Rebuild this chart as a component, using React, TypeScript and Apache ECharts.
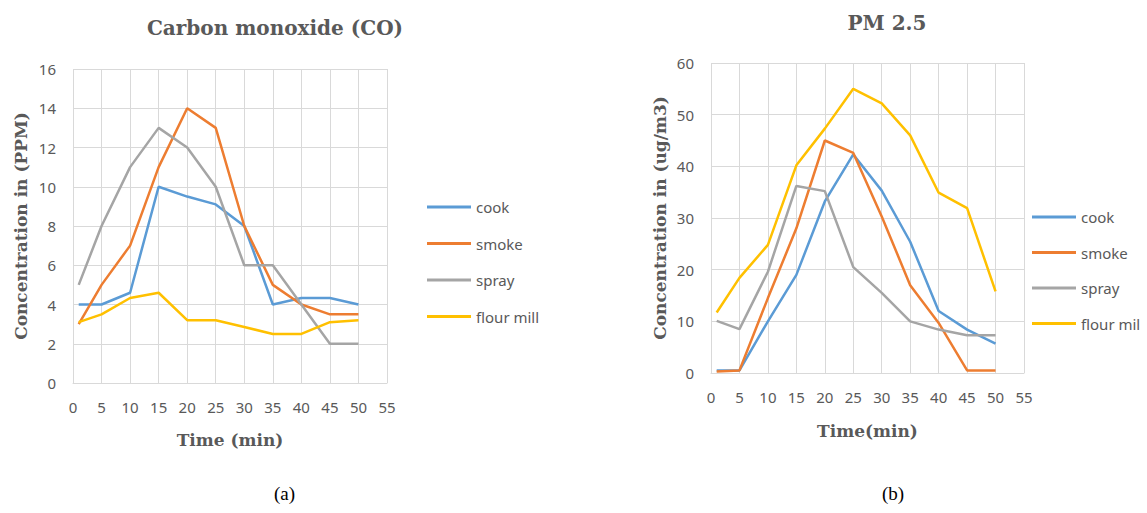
import React, { useEffect, useRef } from "react";
import * as echarts from "echarts";

const times = [1, 5, 10, 15, 20, 25, 30, 35, 40, 45, 50];
const seriesNames = ["cook", "smoke", "spray", "flour mill"];
const colors = ["#5B9BD5", "#ED7D31", "#A5A5A5", "#FFC000"];

const coCook = [4, 4, 4.6, 10, 9.5, 9.1, 8, 4, 4.33, 4.33, 4];
const coSmoke = [3, 5, 7, 11, 14, 13, 8, 5, 4, 3.5, 3.5];
const coSpray = [5, 8, 11, 13, 12, 10, 6, 6, 4, 2, 2];
const coFlour = [3.1, 3.5, 4.33, 4.6, 3.2, 3.2, 2.85, 2.5, 2.5, 3.1, 3.2];

const pmCook = [0.5, 0.5, 10, 19, 33.2, 42.3, 35.3, 25.4, 12, 8.4, 5.7];
const pmSmoke = [0.3, 0.5, 14.5, 28, 45, 42.6, 30.3, 17, 9.7, 0.5, 0.5];
const pmSpray = [10.1, 8.5, 19.6, 36.2, 35.2, 20.5, 15.5, 10, 8.4, 7.3, 7.3];
const pmFlour = [11.7, 18.4, 24.8, 40.2, 47.3, 55, 52.2, 46, 34.9, 31.9, 15.8];

const titles = ["Carbon monoxide (CO)", "PM 2.5"];
const xNames = ["Time (min)", "Time(min)"];
const yNames = ["Concentration in (PPM)", "Concentration in (ug/m3)"];
const captions = ["(a)", "(b)"];

const TXT = "#595959";
const GRID = "#D9D9D9";
const tickFont = "Noto Sans";
const serifBold = "DejaVu Serif";

function pairs(vals: number[]) {
  return times.map((t, i) => [t, vals[i]]);
}

export default function App() {
  const ref = useRef<HTMLDivElement>(null);
  useEffect(() => {
    if (!ref.current) return;
    const chart = echarts.init(ref.current, null, { renderer: "svg" });
    const xAxisBase = (idx: number, gap: number) => ({
      type: "value",
      gridIndex: idx,
      min: 0,
      max: 55,
      interval: 5,
      name: xNames[idx],
      nameLocation: "middle",
      nameGap: gap,
      nameTextStyle: { fontFamily: serifBold, fontWeight: "bold", fontSize: 17, color: TXT },
      axisLine: { show: true, lineStyle: { color: GRID, width: 1 } },
      axisTick: { show: false },
      axisLabel: { color: TXT, fontFamily: tickFont, fontSize: 15, margin: 16, showMaxLabel: true, showMinLabel: true },
      splitLine: { show: true, lineStyle: { color: GRID, width: 1 } },
    });
    const yAxisBase = (idx: number, max: number, interval: number, gap: number) => ({
      type: "value",
      gridIndex: idx,
      min: 0,
      max,
      interval,
      name: yNames[idx],
      nameLocation: "middle",
      nameGap: gap,
      nameTextStyle: { fontFamily: serifBold, fontWeight: "bold", fontSize: 17, color: TXT },
      axisLine: { show: false },
      axisTick: { show: false },
      axisLabel: { color: TXT, fontFamily: tickFont, fontSize: 15, margin: 17 },
      splitLine: { show: true, lineStyle: { color: GRID, width: 1 } },
    });
    const co = [coCook, coSmoke, coSpray, coFlour];
    const pm = [pmCook, pmSmoke, pmSpray, pmFlour];
    const series: any[] = [];
    co.forEach((vals, i) =>
      series.push({
        type: "line",
        name: seriesNames[i],
        xAxisIndex: 0,
        yAxisIndex: 0,
        data: pairs(vals),
        symbol: "none",
        lineStyle: { color: colors[i], width: 2.5 },
        itemStyle: { color: colors[i] },
      })
    );
    pm.forEach((vals, i) =>
      series.push({
        type: "line",
        name: seriesNames[i],
        xAxisIndex: 1,
        yAxisIndex: 1,
        data: pairs(vals),
        symbol: "none",
        lineStyle: { color: colors[i], width: 2.5 },
        itemStyle: { color: colors[i] },
      })
    );
    const legendBase = (left: number, top: number, gap: number, extra: any) => ({
      orient: "vertical",
      left,
      top,
      padding: 0,
      itemGap: gap,
      itemWidth: 44,
      itemHeight: 3,
      icon: "rect",
      selectedMode: false,
      data: seriesNames,
      textStyle: { color: TXT, fontFamily: tickFont, fontSize: 15, lineHeight: 16, ...extra },
    });
    chart.setOption({
      animation: false,
      backgroundColor: "#ffffff",
      title: [
        {
          text: titles[0],
          left: 270,
          top: 13,
          textAlign: "center",
          textStyle: { fontFamily: serifBold, fontWeight: "bold", fontSize: 20, color: TXT },
        },
        {
          text: titles[1],
          left: 882,
          top: 8,
          textAlign: "center",
          textStyle: { fontFamily: serifBold, fontWeight: "bold", fontSize: 20, color: TXT },
        },
      ],
      grid: [
        { left: 73, right: 760, top: 69, bottom: 130, containLabel: false },
        { left: 711, right: 123, top: 63, bottom: 140, containLabel: false },
      ],
      xAxis: [xAxisBase(0, 48), xAxisBase(1, 49)],
      yAxis: [yAxisBase(0, 16, 2, 44), yAxisBase(1, 60, 10, 43)],
      legend: [
        legendBase(427, 199, 20.5, {}),
        legendBase(1032, 209, 19.5, { width: 62, overflow: "truncate", ellipsis: "" }),
      ],
      series,
      graphic: [
        {
          type: "text",
          left: 284 - 10,
          top: 484,
          style: { text: captions[0], font: "19px 'Liberation Serif'", fill: "#000" },
        },
        {
          type: "text",
          left: 892 - 10,
          top: 484,
          style: { text: captions[1], font: "19px 'Liberation Serif'", fill: "#000" },
        },
      ],
    });
    return () => chart.dispose();
  }, []);
  return (
    <div
      ref={ref}
      style={{ position: "fixed", left: 0, top: 0, width: 1147, height: 513, background: "#fff" }}
    />
  );
}
